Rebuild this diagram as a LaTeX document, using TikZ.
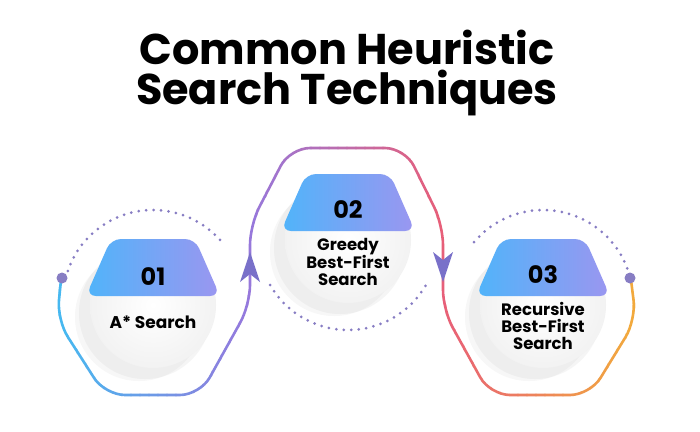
\documentclass[tikz,border=0pt]{standalone}
\usepackage{fontspec}
\setmainfont{Poppins}
\usetikzlibrary{shadings}
\definecolor{cA}{RGB}{70,185,240}
\definecolor{cB}{RGB}{150,120,220}
\definecolor{cC}{RGB}{232,95,120}
\definecolor{cD}{RGB}{242,170,60}
\definecolor{dotc}{RGB}{135,125,195}
\definecolor{capL}{RGB}{80,180,250}
\definecolor{capR}{RGB}{155,150,240}
\tikzset{
  dotarc/.style={dotc, line width=3pt, line cap=round, dash pattern=on 0pt off 7.5pt},
  lbl/.style={font=\bfseries\fontsize{17}{18}\selectfont, align=center, text=black},
  num/.style={font=\bfseries\fontsize{24}{26}\selectfont, text=black},
  hexpath/.style={line width=2.6pt, line cap=round},
}
\newcommand{\stepcircle}[2]{%
  \fill[black!30, opacity=0.12] (#1-8,#2+8) circle (66);
  \fill[black!30, opacity=0.10] (#1-14,#2+12) circle (64);
  \shade[inner color=white, outer color=black!5] (#1,#2) circle (63);
  \begin{scope}
    \clip (#1-70,#2-70) rectangle (#1+70,#2-9);
    \shade[left color=capL, right color=capR, rounded corners=10pt]
      (#1-67,#2-9) -- (#1-42,#2-66) -- (#1+42,#2-66) -- (#1+67,#2-9) -- cycle;
  \end{scope}
}
\begin{document}
\begin{tikzpicture}[x=1pt,y=-1pt]
\useasboundingbox (0,0) rectangle (700,431);
\fill[white] (0,0) rectangle (700,431);
% title
\node[font=\bfseries\fontsize{43}{46}\selectfont, align=center, text=black] (title) at (347,73)
  {Common Heuristic\\[-6pt]Search Techniques};
% dotted arcs (y axis flipped: angles negated)
\draw[dotarc] (153,300) ++(-166:90) arc[start angle=-166, end angle=-40, radius=90];
\draw[dotarc] (348,240) ++(150:90) arc[start angle=150, end angle=30, radius=90];
\draw[dotarc] (543,300) ++(-140:90) arc[start angle=-140, end angle=-14, radius=90];
% gradient hex path
\def\hexp{(61,280) -- (57,320) -- (105,395) -- (200,395) -- (250,305) -- (250,225) -- (290,148) -- (405,148) -- (443,225) -- (443,310) -- (490,395) -- (590,395) -- (636,320) -- (631,280)}
\foreach \i in {0,...,66}{
  \pgfmathsetmacro{\xa}{50+\i*9}
  \pgfmathsetmacro{\xm}{\xa+4.5}
  \pgfmathparse{\xm<250 ? 1 : (\xm<443 ? 2 : 3)}\let\seg\pgfmathresult
  \ifnum\seg=1
    \pgfmathsetmacro{\p}{max(0,min(100,100-(\xm-60)/190*100))}
    \colorlet{segc}{cA!\p!cB}
  \else\ifnum\seg=2
    \pgfmathsetmacro{\p}{max(0,min(100,100-(\xm-250)/193*100))}
    \colorlet{segc}{cB!\p!cC}
  \else
    \pgfmathsetmacro{\p}{max(0,min(100,100-(\xm-443)/190*100))}
    \colorlet{segc}{cC!\p!cD}
  \fi\fi
  \begin{scope}
    \clip (\xa-0.3,100) rectangle (\xa+9.3,420);
    \draw[hexpath, segc, rounded corners=20pt] \hexp;
  \end{scope}
}
\fill[dotc] (62,278) circle (5.5);
\fill[dotc] (630,278) circle (5.5);
% arrowheads
\fill[dotc!90!blue] (250,252) -- (240,282) -- (250,274) -- (260,282) -- cycle;
\fill[dotc!90!blue] (443,282) -- (433,252) -- (443,260) -- (453,252) -- cycle;
% circles
\stepcircle{153}{305}
\stepcircle{348}{240}
\stepcircle{543}{305}
\node[num] (n1) at (153,277) {01};
\node[lbl] (t1) at (153,322) {A* Search};
\node[num] (n2) at (348,210) {02};
\node[lbl, font=\bfseries\fontsize{16.5}{17}\selectfont] (t2) at (348,262) {Greedy\\Best-First\\Search};
\node[num] (n3) at (543,275) {03};
\node[lbl, font=\bfseries\fontsize{16.5}{17}\selectfont] (t3) at (543,326) {Recursive\\Best-First\\Search};
\end{tikzpicture}
\end{document}
